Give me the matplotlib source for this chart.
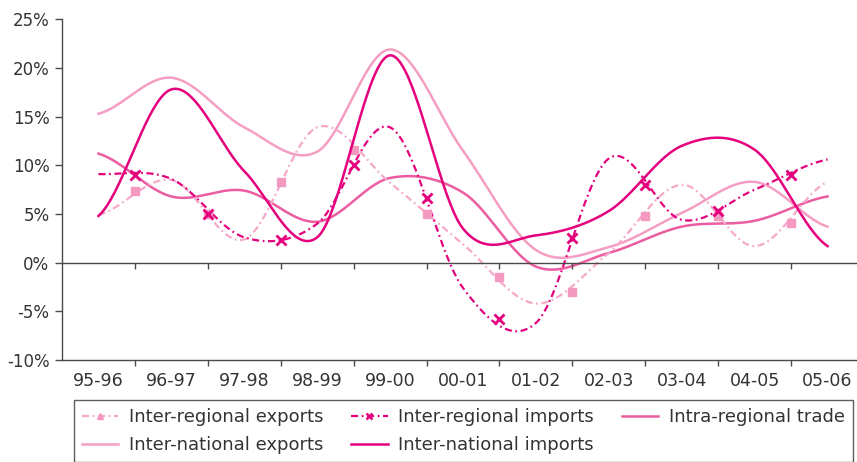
import numpy as np
import matplotlib
matplotlib.use("Agg")
import matplotlib.pyplot as plt
from matplotlib.lines import Line2D
from matplotlib.ticker import FuncFormatter, FixedLocator

# ---------------- data ----------------
categories = ["95-96", "96-97", "97-98", "98-99", "99-00", "00-01",
              "01-02", "02-03", "03-04", "04-05", "05-06"]

# smoothed line values at each category (percent)
inter_regional_exports = [4.9, 8.5, 2.4, 13.9, 8.2, 1.9, -4.2, 1.0, 8.0, 1.7, 8.3]
inter_regional_imports = [9.1, 8.6, 2.6, 4.0, 13.9, -2.6, -6.2, 10.7, 4.4, 7.5, 10.6]
intra_regional_trade = [11.2, 6.8, 7.4, 4.2, 8.7, 7.2, -0.4, 1.0, 3.7, 4.3, 6.8]
inter_national_exports = [15.3, 19.0, 13.9, 11.4, 21.9, 11.5, 1.3, 1.6, 5.1, 8.3, 3.7]
inter_national_imports = [4.8, 17.8, 9.4, 2.6, 21.3, 3.5, 2.8, 5.3, 12.0, 11.6, 1.7]

# marker values shown between categories (percent)
ire_markers = [7.4, 5.0, 8.3, 11.6, 5.0, -1.5, -3.0, 4.8, 4.8, 4.1]
iri_markers = [9.0, 5.0, 2.3, 10.0, 6.6, -5.8, 2.5, 8.0, 5.3, 9.0]

y_ticks = [-10, -5, 0, 5, 10, 15, 20, 25]

labels = ["Inter-regional exports", "Inter-regional imports", "Intra-regional trade",
          "Inter-national exports", "Inter-national imports"]

# ---------------- styling ----------------
C_DARK = "#E5007D"
C_MED = "#EC5CA0"
C_LIGHT = "#F59EC4"
C_LIGHT_D = "#F5A8CA"
AX_COL = "#4a4a4a"


def smooth(values, n=40):
    """Catmull-Rom (Excel-style) smoothing through the given points."""
    y = np.asarray(values, dtype=float)
    x = np.arange(len(y), dtype=float)
    ye = np.concatenate([[y[0]], y, [y[-1]]])
    xs, ys = [], []
    t = np.linspace(0, 1, n, endpoint=False)
    for i in range(len(y) - 1):
        p0, p1 = ye[i + 1], ye[i + 2]
        m0 = (ye[i + 2] - ye[i]) / 2.0
        m1 = (ye[i + 3] - ye[i + 1]) / 2.0
        h00 = 2 * t**3 - 3 * t**2 + 1
        h10 = t**3 - 2 * t**2 + t
        h01 = -2 * t**3 + 3 * t**2
        h11 = t**3 - t**2
        xs.append(x[i] + t)
        ys.append(h00 * p0 + h10 * m0 + h01 * p1 + h11 * m1)
    xs.append([x[-1]])
    ys.append([y[-1]])
    return np.concatenate(xs), np.concatenate(ys)


W, H = 857, 462
fig = plt.figure(figsize=(W / 100, H / 100), dpi=100)
ax = fig.add_axes([62 / W, (H - 360) / H, (864 - 62) / W, (360 - 19.3) / H])

dash_style = (3.2, 1.6, 0.8, 1.6)

xi = np.arange(len(categories))
xm = xi[:-1] + 0.5

x, y = smooth(inter_national_exports)
ax.plot(x, y, color=C_LIGHT, lw=1.8, zorder=3)
x, y = smooth(intra_regional_trade)
ax.plot(x, y, color=C_MED, lw=1.8, zorder=3)
x, y = smooth(inter_regional_exports)
ax.plot(x, y, color=C_LIGHT_D, lw=1.6, dashes=dash_style, zorder=4)
ax.plot(xm, ire_markers, ls="none", marker="s", ms=6, color="#F49AC1",
        mec="#F49AC1", zorder=5)
x, y = smooth(inter_regional_imports)
ax.plot(x, y, color=C_DARK, lw=1.6, dashes=dash_style, zorder=4)
ax.plot(xm, iri_markers, ls="none", marker="x", ms=6.5, mew=2, color=C_DARK, zorder=5)
x, y = smooth(inter_national_imports)
ax.plot(x, y, color=C_DARK, lw=1.8, zorder=6)

ax.set_xlim(-0.5, len(categories) - 0.5)
ax.set_ylim(-10, 25)

for s in ["top", "right"]:
    ax.spines[s].set_visible(False)
for s in ["left", "bottom"]:
    ax.spines[s].set_color(AX_COL)
    ax.spines[s].set_linewidth(1.0)

ax.set_yticks(y_ticks)
ax.yaxis.set_major_formatter(FuncFormatter(lambda v, p: f"{int(v)}%"))
ax.tick_params(axis="y", length=5, width=1, color=AX_COL, pad=4,
               labelsize=12, labelcolor="#333333")

# category labels at centres (major, no tick marks), tick marks between (minor)
ax.set_xticks(xi)
ax.set_xticklabels(categories)
ax.xaxis.set_minor_locator(FixedLocator(list(xm)))
ax.tick_params(axis="x", which="major", length=0, pad=9,
               labelsize=12.5, labelcolor="#333333")
ax.tick_params(axis="x", which="minor", length=4, width=1, color=AX_COL)

# zero line with tick marks
ax2 = ax.twiny()
ax2.set_xlim(ax.get_xlim())
for s in ["top", "right", "left"]:
    ax2.spines[s].set_visible(False)
ax2.spines["bottom"].set_position(("data", 0))
ax2.spines["bottom"].set_color(AX_COL)
ax2.spines["bottom"].set_linewidth(1.0)
ax2.xaxis.set_ticks_position("bottom")
ax2.xaxis.set_major_locator(FixedLocator(list(xm)))
ax2.tick_params(axis="x", length=4, width=1, color=AX_COL, labelbottom=False,
                labeltop=False)

# legend
handles = [
    Line2D([], [], color=C_LIGHT_D, lw=1.6, dashes=dash_style, marker="^", ms=5,
           mfc="#F49AC1", mec="#F49AC1"),
    Line2D([], [], color=C_DARK, lw=1.6, dashes=dash_style, marker="x", ms=5, mew=1.8),
    Line2D([], [], color=C_MED, lw=1.8),
    Line2D([], [], color=C_LIGHT, lw=1.8),
    Line2D([], [], color=C_DARK, lw=1.8),
]
order = [0, 3, 1, 4, 2]
leg = fig.legend([handles[i] for i in order], [labels[i] for i in order],
                 loc="upper left", ncol=3, mode="expand",
                 bbox_to_anchor=(74 / W, (H - 400) / H - 0.2, (853 - 74) / W, 0.2),
                 frameon=True, fancybox=False, edgecolor="#333333",
                 prop={"family": ["Liberation Sans Narrow", "DejaVu Sans"], "size": 13},
                 handlelength=2.0, handletextpad=0.6, labelspacing=0.55,
                 borderpad=0.45, borderaxespad=0)
leg.get_frame().set_linewidth(1.0)
for t in leg.get_texts():
    t.set_color("#333333")

fig.savefig("out.png", dpi=100)
